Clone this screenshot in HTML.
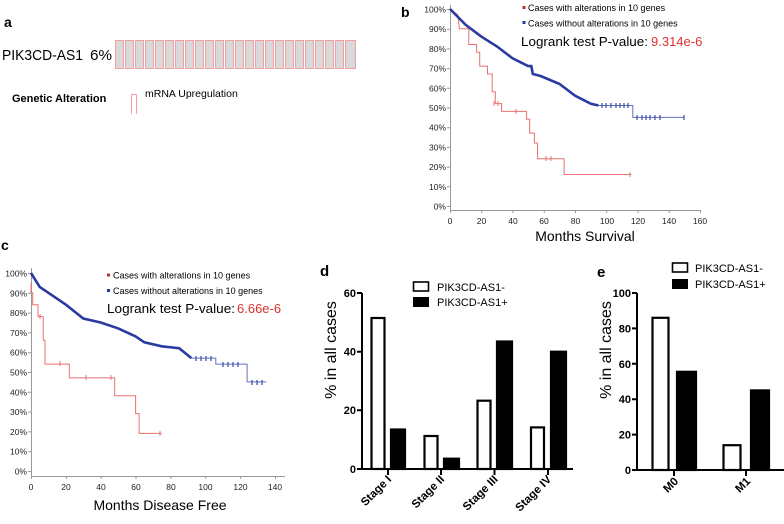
<!DOCTYPE html>
<html><head><meta charset="utf-8"><style>
html,body{margin:0;padding:0;background:#fff;}
svg{display:block;font-family:"Liberation Sans",Arial,sans-serif;}
</style></head><body>
<svg width="784" height="524" viewBox="0 0 784 524" xmlns="http://www.w3.org/2000/svg">
<!-- Panel a -->
<text x="4" y="27" font-size="14" font-weight="bold">a</text>
<text x="2" y="60" font-size="15" textLength="81" lengthAdjust="spacingAndGlyphs">PIK3CD-AS1</text>
<text x="90" y="60" font-size="15" textLength="22" lengthAdjust="spacingAndGlyphs">6%</text>
<g fill="#d9d9d9" stroke="#f0a0a0" stroke-width="1">
<rect x="115.5" y="40.5" width="8" height="28"/><rect x="125.5" y="40.5" width="8" height="28"/><rect x="135.5" y="40.5" width="8" height="28"/><rect x="145.5" y="40.5" width="8" height="28"/><rect x="155.5" y="40.5" width="8" height="28"/><rect x="165.5" y="40.5" width="8" height="28"/><rect x="175.5" y="40.5" width="8" height="28"/><rect x="185.5" y="40.5" width="8" height="28"/><rect x="195.5" y="40.5" width="8" height="28"/><rect x="205.5" y="40.5" width="8" height="28"/><rect x="215.5" y="40.5" width="8" height="28"/><rect x="225.5" y="40.5" width="8" height="28"/><rect x="235.5" y="40.5" width="8" height="28"/><rect x="245.5" y="40.5" width="8" height="28"/><rect x="255.5" y="40.5" width="8" height="28"/><rect x="265.5" y="40.5" width="8" height="28"/><rect x="275.5" y="40.5" width="8" height="28"/><rect x="285.5" y="40.5" width="8" height="28"/><rect x="295.5" y="40.5" width="8" height="28"/><rect x="305.5" y="40.5" width="8" height="28"/><rect x="315.5" y="40.5" width="8" height="28"/><rect x="325.5" y="40.5" width="8" height="28"/><rect x="335.5" y="40.5" width="8" height="28"/><rect x="345.5" y="40.5" width="10" height="28"/>
</g>
<text x="12" y="102" font-size="11" font-weight="bold">Genetic Alteration</text>
<path d="M131.5,114 V94.5 H136.5 V114" fill="none" stroke="#f0a0a0" stroke-width="1"/>
<text x="145" y="97" font-size="10.5">mRNA Upregulation</text>

<!-- Panel b -->
<text x="401" y="17" font-size="14" font-weight="bold">b</text>
<g stroke="#999" stroke-width="1" fill="none">
<path d="M450.5,5 V210.5 H700"/>
<path d="M447,9.5H450M447,29.2H450M447,48.9H450M447,68.6H450M447,88.3H450M447,108H450M447,127.7H450M447,147.4H450M447,167.1H450M447,186.8H450M447,206.5H450"/>
<path d="M450.5,210V213M481.75,210V213M513,210V213M544.25,210V213M575.5,210V213M606.75,210V213M638,210V213M669.25,210V213M700.5,210V213"/>
</g>
<g font-size="8.5" text-anchor="end" fill="#222">
<text x="446" y="12.5">100%</text><text x="446" y="32.2">90%</text><text x="446" y="51.9">80%</text><text x="446" y="71.6">70%</text><text x="446" y="91.3">60%</text><text x="446" y="111">50%</text><text x="446" y="130.7">40%</text><text x="446" y="150.4">30%</text><text x="446" y="170.1">20%</text><text x="446" y="189.8">10%</text><text x="446" y="209.5">0%</text>
</g>
<g font-size="8.5" text-anchor="middle" fill="#222">
<text x="450" y="224">0</text><text x="481.5" y="224">20</text><text x="513" y="224">40</text><text x="544" y="224">60</text><text x="575.5" y="224">80</text><text x="607" y="224">100</text><text x="638" y="224">120</text><text x="669" y="224">140</text><text x="700" y="224">160</text>
</g>
<text x="585" y="241" font-size="14" text-anchor="middle">Months Survival</text>
<rect x="522.5" y="6" width="3" height="3" fill="#c03030"/>
<rect x="522.5" y="21" width="3" height="3" fill="#2a3a9a"/>
<text x="528" y="11" font-size="9">Cases with alterations in 10 genes</text>
<text x="528" y="26.5" font-size="9">Cases without alterations in 10 genes</text>
<text x="521" y="46" font-size="13" textLength="127" lengthAdjust="spacingAndGlyphs">Logrank test P-value:</text>
<text x="651" y="46" font-size="13" fill="#e03030">9.314e-6</text>
<path d="M450,9 L457.8,14.9 L459.4,28.7 H468.8 V44.5 H476.6 V52.3 H479.7 V66.1 H487.5 V74 H492.2 V91.7 H495.3 V103.6 H501.6 V111.4 H526.6 V119.3 H529.7 V133.1 H534.4 V143 H537.5 V158.7 H564.1 V174.5 H631.3" fill="none" stroke="#e87070" stroke-width="1"/>
<path d="M494,101V106M498,101V106M516,109V114M546,156V161M551,156V161M630,172V177" stroke="#e87070" stroke-width="1"/>
<path d="M450,9 L465.6,24.8 L481.3,36.6 L496.9,46.4 L512.5,58.3 L528.1,66.1 H531.3 L532.8,74 L540.6,76 L559.4,83.9 L575,95.7 L590.6,103.6 L598.4,105.5" fill="none" stroke="#2a3aa0" stroke-width="2.6"/>
<path d="M598.4,105.5 H632.8 V117.4 H684.4" fill="none" stroke="#6070c0" stroke-width="1"/>
<path d="M602,103V108M606,103V108M611,103V108M616,103V108M620,103V108M624,103V108M628,103V108M637,115V120M642,115V120M646,115V120M650,115V120M655,115V120M660,115V120M684,115V120" stroke="#3a4aa8" stroke-width="1.2"/>

<!-- Panel c -->
<text x="1" y="250" font-size="14" font-weight="bold">c</text>
<g stroke="#999" stroke-width="1" fill="none">
<path d="M31.5,268 V476.5 H285"/>
<path d="M28,273.5H31M28,293.3H31M28,313.1H31M28,332.9H31M28,352.7H31M28,372.5H31M28,392.3H31M28,412.1H31M28,431.9H31M28,451.7H31M28,471.5H31"/>
<path d="M31.5,476V479M66.4,476V479M101.2,476V479M136,476V479M170.9,476V479M205.8,476V479M240.6,476V479M275.5,476V479"/>
</g>
<g font-size="8.5" text-anchor="end" fill="#222">
<text x="27" y="276.5">100%</text><text x="27" y="296.3">90%</text><text x="27" y="316.1">80%</text><text x="27" y="335.9">70%</text><text x="27" y="355.7">60%</text><text x="27" y="375.5">50%</text><text x="27" y="395.3">40%</text><text x="27" y="415.1">30%</text><text x="27" y="434.9">20%</text><text x="27" y="454.7">10%</text><text x="27" y="474.5">0%</text>
</g>
<g font-size="8.5" text-anchor="middle" fill="#222">
<text x="31" y="490">0</text><text x="66" y="490">20</text><text x="101" y="490">40</text><text x="136" y="490">60</text><text x="171" y="490">80</text><text x="205.5" y="490">100</text><text x="240.5" y="490">120</text><text x="275" y="490">140</text>
</g>
<text x="160" y="510" font-size="14" text-anchor="middle">Months Disease Free</text>
<rect x="107" y="273.5" width="3" height="3" fill="#c03030"/>
<rect x="107" y="289" width="3" height="3" fill="#2a3a9a"/>
<text x="113" y="278.5" font-size="9">Cases with alterations in 10 genes</text>
<text x="113" y="294" font-size="9">Cases without alterations in 10 genes</text>
<text x="107" y="313" font-size="13" textLength="128" lengthAdjust="spacingAndGlyphs">Logrank test P-value:</text>
<text x="237" y="313" font-size="13" fill="#e03030">6.66e-6</text>
<path d="M31,282.9 V292.8 H32.7 V304.7 H38 V316.6 H43.2 V340.3 H45 V364.1 H69.3 V377.9 H114.7 V395.8 H135.6 V413.6 H139.1 V433.4 H161.7" fill="none" stroke="#e87070" stroke-width="1"/>
<path d="M40,314V319M60,361V366M86,375V380M111,375V380M160,431V436" stroke="#e87070" stroke-width="1"/>
<path d="M31,273 L39.7,286.9 L48.4,292.8 L65.9,304.7 L83.3,318.5 L100.7,322.5 L118.2,328.4 L135.6,336.4 L144.3,342.3 L161.7,346.3 L179.2,348.2 L191.4,358.1" fill="none" stroke="#2a3aa0" stroke-width="2.6"/>
<path d="M191.4,358.1 H215.8 V364.1 H247.1 V381.9 H266.3" fill="none" stroke="#6070c0" stroke-width="1"/>
<path d="M196,356V361M201,356V361M206,356V361M211,356V361M223,362V367M228,362V367M233,362V367M238,362V367M252,380V385M257,380V385M262,380V385" stroke="#3a4aa8" stroke-width="1.2"/>

<!-- Panel d -->
<text x="320" y="276" font-size="15" font-weight="bold">d</text>
<text transform="translate(336,350) rotate(-90)" font-size="16" text-anchor="middle">% in all cases</text>
<g stroke="#000" stroke-width="2" fill="none">
<path d="M362,293 V469 H573"/>
<path d="M357,293H362M357,351.7H362M357,410.3H362M357,469H362"/>
<path d="M388,469V475M441,469V475M494.5,469V475M548,469V475"/>
</g>
<g font-size="11" font-weight="bold" text-anchor="end">
<text x="356" y="297">60</text><text x="356" y="355.5">40</text><text x="356" y="414">20</text><text x="356" y="473">0</text>
</g>
<g stroke="#000" stroke-width="2.2">
<rect x="371.5" y="318" width="13" height="151" fill="#fff"/>
<rect x="391" y="429.5" width="14" height="39.5" fill="#000"/>
<rect x="424.5" y="436" width="13" height="33" fill="#fff"/>
<rect x="444" y="458.7" width="15" height="10.3" fill="#000"/>
<rect x="477.5" y="400.7" width="13" height="68.3" fill="#fff"/>
<rect x="497" y="341.5" width="15" height="127.5" fill="#000"/>
<rect x="531" y="427.4" width="13" height="41.6" fill="#fff"/>
<rect x="551" y="351.7" width="15" height="117.3" fill="#000"/>
</g>
<g font-size="11.5" font-weight="bold" text-anchor="end">
<text transform="translate(392,480) rotate(-45)">Stage I</text>
<text transform="translate(445,480) rotate(-45)">Stage II</text>
<text transform="translate(498.5,480) rotate(-45)">Stage III</text>
<text transform="translate(552,480) rotate(-45)">Stage IV</text>
</g>
<rect x="413.5" y="282" width="15" height="9" fill="#fff" stroke="#000" stroke-width="1.6"/>
<rect x="413" y="297" width="16" height="10" fill="#000"/>
<text x="437" y="291" font-size="11">PIK3CD-AS1-</text>
<text x="437" y="306" font-size="11">PIK3CD-AS1+</text>

<!-- Panel e -->
<text x="597" y="277" font-size="15" font-weight="bold">e</text>
<text transform="translate(611,350) rotate(-90)" font-size="16" text-anchor="middle">% in all cases</text>
<g stroke="#000" stroke-width="2" fill="none">
<path d="M637,293 V470 H784"/>
<path d="M632,293H637M632,328.4H637M632,363.8H637M632,399.2H637M632,434.6H637M632,470H637"/>
<path d="M674,470V476M746,470V476"/>
</g>
<g font-size="11" font-weight="bold" text-anchor="end">
<text x="631" y="297">100</text><text x="631" y="332.4">80</text><text x="631" y="367.8">60</text><text x="631" y="403.2">40</text><text x="631" y="438.6">20</text><text x="631" y="474">0</text>
</g>
<g stroke="#000" stroke-width="2.2">
<rect x="652.5" y="317.8" width="16" height="152.2" fill="#fff"/>
<rect x="677" y="371.8" width="19" height="98.2" fill="#000"/>
<rect x="723.5" y="445.2" width="17" height="24.8" fill="#fff"/>
<rect x="751" y="390.4" width="18" height="79.6" fill="#000"/>
</g>
<g font-size="11.5" font-weight="bold" text-anchor="end">
<text transform="translate(679,482) rotate(-45)">M0</text>
<text transform="translate(751,482) rotate(-45)">M1</text>
</g>
<rect x="672.5" y="263" width="15" height="9" fill="#fff" stroke="#000" stroke-width="1.6"/>
<rect x="672" y="279" width="16" height="10" fill="#000"/>
<text x="695" y="272" font-size="11">PIK3CD-AS1-</text>
<text x="695" y="288" font-size="11">PIK3CD-AS1+</text>
</svg>
</body></html>
